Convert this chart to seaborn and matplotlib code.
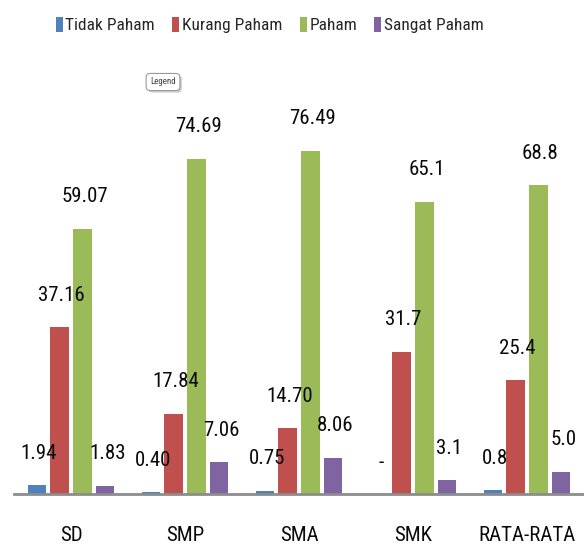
import matplotlib
matplotlib.use("Agg")
import matplotlib.pyplot as plt
import matplotlib.patheffects as pe
from matplotlib import font_manager
from matplotlib.patches import Patch
import pandas as pd
import seaborn as sns

# --- data ---
levels = ["SD", "SMP", "SMA", "SMK", "RATA-RATA"]
series = ["Tidak Paham", "Kurang Paham", "Paham", "Sangat Paham"]
tidak_paham = [1.94, 0.40, 0.75, 0.0, 0.8]
kurang_paham = [37.16, 17.84, 14.70, 31.7, 25.4]
paham = [59.07, 74.69, 76.49, 65.1, 68.8]
sangat_paham = [1.83, 7.06, 8.06, 3.1, 5.0]
labels = {
    "Tidak Paham": ["1.94", "0.40", "0.75", "-", "0.8"],
    "Kurang Paham": ["37.16", "17.84", "14.70", "31.7", "25.4"],
    "Paham": ["59.07", "74.69", "76.49", "65.1", "68.8"],
    "Sangat Paham": ["1.83", "7.06", "8.06", "3.1", "5.0"],
}
colors = ["#4F81BD", "#C0504D", "#9BBB59", "#8064A2"]

df = pd.DataFrame({"level": levels, "Tidak Paham": tidak_paham,
                   "Kurang Paham": kurang_paham, "Paham": paham,
                   "Sangat Paham": sangat_paham})
long = df.melt(id_vars="level", var_name="kategori", value_name="nilai")

sns.set_theme(style="white")

# the original uses a narrow Calibri-like face; take the narrowest one around
names = {f.name for f in font_manager.fontManager.ttflist}
prefs = ["Roboto Condensed", "Liberation Sans Narrow", "Noto Sans Condensed",
         "Noto Sans SemiCondensed", "Open Sans Condensed", "Liberation Sans"]
FONT = next((p for p in prefs if p in names), "DejaVu Sans")
NARROW = FONT != "Liberation Sans" and FONT != "DejaVu Sans"
plt.rcParams["font.family"] = [FONT, "DejaVu Sans"]
LBL = 15 if NARROW else 13
LEG = 12.5 if NARROW else 11

fig = plt.figure(figsize=(5.84, 5.48), dpi=100)
ax = fig.add_axes([14 / 584, 54 / 548, 570 / 584, 434 / 548])

sns.barplot(data=long, x="level", y="nilai", hue="kategori", order=levels,
            hue_order=series, palette=colors, width=0.8, gap=0.2,
            saturation=1, legend=False, linewidth=0, ax=ax)

ax.set_xlim(-0.5, 4.5)
ax.set_ylim(0, 96.7)
ax.set_xlabel("")
ax.set_ylabel("")
ax.set_yticks([])
for s in ["left", "right", "top"]:
    ax.spines[s].set_visible(False)
ax.spines["bottom"].set_color("#8c8c8c")
ax.spines["bottom"].set_linewidth(2)
ax.tick_params(axis="x", length=0, pad=23, labelsize=LBL, colors="#0a0a0a")

# data labels above each bar
for name, cont in zip(series, ax.containers):
    for bar, txt in zip(cont, labels[name]):
        x = bar.get_x() + bar.get_width() / 2
        ax.annotate(txt, (x, bar.get_height()), xytext=(1.5, 23),
                    textcoords="offset points", ha="center", va="center",
                    fontsize=LBL, color="#0a0a0a")

handles = [Patch(facecolor=c, edgecolor="none") for c in colors]
fig.legend(handles, series, loc="center", bbox_to_anchor=(0.462, 0.954),
           ncol=4, frameon=False, fontsize=LEG, handlelength=0.4,
           handleheight=0.95, handletextpad=0.15, columnspacing=1.0)

# the little "Legend" tooltip box (with a soft shadow)
tip = fig.text(163 / 584, 1 - 82 / 548, "Legend", ha="center", va="center",
               fontsize=6.5, color="#444444",
               bbox=dict(boxstyle="round,pad=0.45", facecolor="white",
                         edgecolor="#9a9a9a", linewidth=0.8))
tip.get_bbox_patch().set_path_effects(
    [pe.withSimplePatchShadow(offset=(1.5, -1.5), shadow_rgbFace="#bbbbbb", alpha=0.7)])

fig.savefig("out.png", dpi=100)
